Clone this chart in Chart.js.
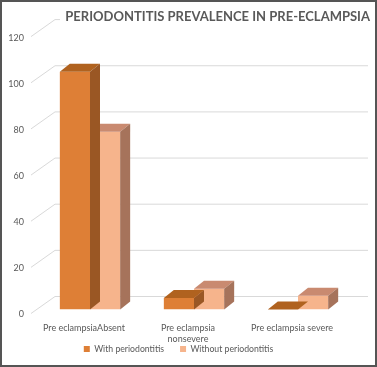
<!DOCTYPE html>
<html>
<head>
<meta charset="utf-8">
<script src="https://cdn.jsdelivr.net/npm/chart.js@4/dist/chart.umd.min.js"></script>
<style>
  html, body { margin: 0; padding: 0; background: #fff; }
  canvas { display: block; }
</style>
</head>
<body>
<canvas id="chart" width="377" height="367"></canvas>
<script>
// data
const categories = ["Pre eclampsiaAbsent", ["Pre eclampsia", "nonsevere"], "Pre eclampsia severe"];
const withPeriodontitis = [103, 5, 0];
const withoutPeriodontitis = [77, 9, 6];
const seriesNames = ["With periodontitis", "Without periodontitis"];
const yTicks = [0, 20, 40, 60, 80, 100, 120];

const textGray = '#595959';
const gridGray = '#d9d9d9';

// excel-like 3d look: top + right faces of each bar
const depth = { dx: 10, dy: -8 };
const faceColors = [
  { top: '#b0621f', side: '#9a5724' },
  { top: '#c98a70', side: '#a6735b' }
];

const bars3d = {
  id: 'bars3d',
  afterLayout(chart) {
    // legend sits tight under the category labels
    const lg = chart.legend;
    lg.top -= 28.4;
    lg.bottom -= 28.4;
  },
  beforeDraw(chart) {
    const ctx = chart.ctx;
    ctx.save();
    ctx.fillStyle = '#fff';
    ctx.fillRect(0, 0, chart.width, chart.height);
    ctx.restore();
  },
  beforeDatasetsDraw(chart) {
    // back wall gridlines with the diagonal lead-in from each tick label
    const { ctx, chartArea } = chart;
    const y = chart.scales.y;
    ctx.save();
    ctx.strokeStyle = gridGray;
    ctx.lineWidth = 1;
    yTicks.forEach((v, i) => {
      const py = y.getPixelForValue(v);
      const endX = i === yTicks.length - 1 ? chartArea.left + 22 : chartArea.right + 18;
      ctx.beginPath();
      ctx.moveTo(chartArea.left - 7, py + 4);
      ctx.lineTo(chartArea.left + 17, py - 13);
      ctx.lineTo(endX, py - 13);
      ctx.stroke();
    });
    ctx.restore();
  },
  afterDatasetDraw(chart, args) {
    const ctx = chart.ctx;
    const c = faceColors[args.index];
    const { dx, dy } = depth;
    args.meta.data.forEach(bar => {
      const p = bar.getProps(['x', 'y', 'base', 'width'], true);
      const l = p.x - p.width / 2, r = p.x + p.width / 2;
      ctx.save();
      ctx.fillStyle = c.top;
      ctx.beginPath();
      ctx.moveTo(l, p.y);
      ctx.lineTo(l + dx, p.y + dy);
      ctx.lineTo(r + dx, p.y + dy);
      ctx.lineTo(r, p.y);
      ctx.closePath();
      ctx.fill();
      ctx.fillStyle = c.side;
      ctx.beginPath();
      ctx.moveTo(r, p.y);
      ctx.lineTo(r + dx, p.y + dy);
      ctx.lineTo(r + dx, p.base + dy);
      ctx.lineTo(r, p.base);
      ctx.closePath();
      ctx.fill();
      ctx.restore();
    });
  },
  afterDraw(chart) {
    const ctx = chart.ctx;
    ctx.save();
    ctx.strokeStyle = '#555';
    ctx.lineWidth = 2;
    ctx.strokeRect(1, 1, chart.width - 2, chart.height - 2);
    ctx.restore();
  }
};

new Chart(document.getElementById('chart'), {
  type: 'bar',
  data: {
    labels: categories,
    datasets: [
      { label: seriesNames[0], data: withPeriodontitis, backgroundColor: '#de7f36' },
      { label: seriesNames[1], data: withoutPeriodontitis, backgroundColor: '#f6b48c' }
    ]
  },
  options: {
    responsive: false,
    animation: false,
    events: [],
    layout: { padding: { left: -13, right: 7, top: 0, bottom: -24.8 } },
    datasets: { bar: { categoryPercentage: 0.58, barPercentage: 1 } },
    scales: {
      x: {
        grid: { display: false, drawTicks: false },
        border: { display: false },
        ticks: {
          color: textGray,
          font: { family: 'Lato', size: 9 },
          padding: 13,
          labelOffset: -6,
          maxRotation: 0,
          autoSkip: false
        }
      },
      y: {
        min: 0,
        max: 120,
        grid: { display: false, drawTicks: false },
        border: { display: false },
        afterFit(scale) { scale.width = 51; },
        ticks: {
          stepSize: 20,
          color: textGray,
          font: { family: 'Lato', size: 9 },
          padding: 14,
          labelOffset: 5
        }
      },
      yRight: {
        position: 'right',
        display: true,
        grid: { display: false, drawTicks: false },
        border: { display: false },
        ticks: { display: false },
        afterFit(scale) { scale.width = 20; }
      }
    },
    plugins: {
      title: {
        display: true,
        text: 'PERIODONTITIS PREVALENCE IN PRE-ECLAMPSIA',
        align: 'end',
        color: textGray,
        font: { family: 'Lato', size: 13, weight: 'bold' },
        padding: { top: 9, bottom: 8 }
      },
      legend: {
        position: 'bottom',
        labels: {
          color: textGray,
          font: { family: 'Lato', size: 8.7 },
          boxWidth: 6,
          boxHeight: 6,
          padding: 16
        }
      },
      tooltip: { enabled: false }
    }
  },
  plugins: [bars3d]
});
</script>
</body>
</html>
